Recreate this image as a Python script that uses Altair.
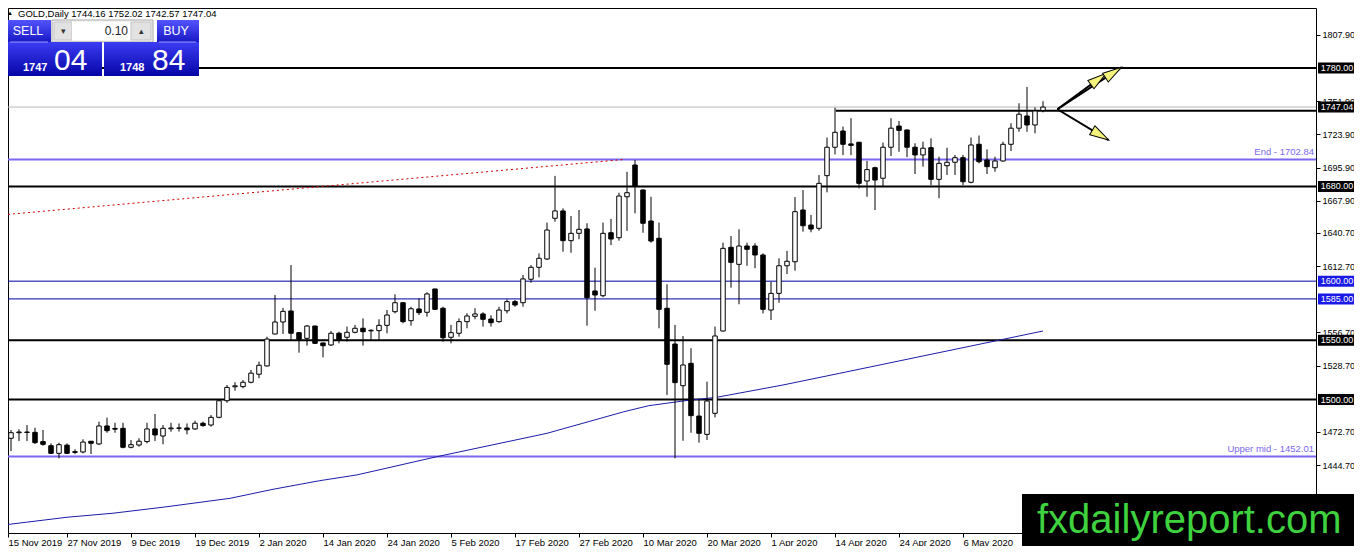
import altair as alt
import pandas as pd

# ---------------- data ----------------
opens = [
    1472.0, 1467.3, 1472.0, 1472.6, 1472.3, 1464.5, 1461.0, 1454.6, 1461.5, 1456.0,
    1455.7, 1464.8, 1462.5, 1477.7, 1475.6, 1475.7, 1459.7, 1461.6, 1464.5, 1475.2,
    1469.2, 1475.3, 1476.0, 1476.0, 1475.2, 1480.0, 1478.5, 1485.0, 1499.0, 1510.8,
    1510.9, 1514.6, 1521.4, 1528.4, 1555.4, 1565.5, 1574.8, 1556.5, 1551.7, 1562.1,
    1547.8, 1546.1, 1556.0, 1552.6, 1556.8, 1560.2, 1558.0, 1558.2, 1562.7, 1574.2,
    1581.8, 1566.6, 1576.5, 1573.7, 1593.4, 1577.1, 1552.6, 1556.0, 1565.8, 1570.3,
    1572.3, 1568.0, 1565.8, 1575.0, 1582.7, 1581.8, 1601.6, 1611.7, 1618.7, 1653.1,
    1659.3, 1634.2, 1640.4, 1644.1, 1591.7, 1587.7, 1640.9, 1636.7, 1671.3, 1698.1,
    1677.0, 1650.8, 1636.2, 1577.1, 1546.9, 1511.7, 1530.6, 1486.1, 1470.6, 1488.4,
    1557.9, 1628.6, 1614.2, 1629.7, 1629.7, 1622.1, 1575.6, 1589.7, 1613.0, 1616.4,
    1660.1, 1647.4, 1644.6, 1689.1, 1713.1, 1726.8, 1715.9, 1717.3, 1684.6, 1695.8,
    1686.9, 1713.1, 1731.0, 1727.7, 1713.1, 1706.6, 1712.7, 1686.0, 1697.5, 1700.4,
    1704.3, 1683.5, 1715.6, 1702.3, 1695.8, 1701.5, 1715.6, 1729.2, 1739.5, 1731.9,
    1744.16]
highs = [
    1473.5, 1474.3, 1474.9, 1478.5, 1476.2, 1474.3, 1463.0, 1463.6, 1463.0, 1458.0,
    1466.4, 1465.0, 1481.3, 1484.7, 1480.4, 1480.4, 1465.8, 1467.3, 1480.4, 1487.8,
    1478.5, 1480.4, 1479.8, 1479.8, 1482.2, 1481.3, 1486.9, 1500.2, 1512.3, 1514.6,
    1516.5, 1525.0, 1532.0, 1553.1, 1588.3, 1577.4, 1613.6, 1557.0, 1563.0, 1562.4,
    1548.0, 1557.9, 1557.3, 1561.6, 1563.0, 1568.6, 1559.3, 1567.8, 1575.6, 1588.9,
    1582.2, 1578.4, 1585.5, 1590.6, 1593.6, 1578.4, 1563.0, 1568.6, 1572.9, 1577.1,
    1573.7, 1571.2, 1578.4, 1584.7, 1584.1, 1605.2, 1613.6, 1623.5, 1649.4, 1688.9,
    1661.5, 1655.0, 1660.1, 1648.9, 1611.4, 1649.4, 1652.5, 1674.7, 1692.4, 1702.3,
    1677.5, 1671.3, 1649.4, 1597.3, 1563.0, 1553.7, 1543.3, 1500.2, 1515.1, 1561.6,
    1632.5, 1638.1, 1643.8, 1632.5, 1632.0, 1623.5, 1599.5, 1619.3, 1625.5, 1671.0,
    1676.9, 1655.9, 1689.6, 1721.3, 1746.5, 1730.5, 1737.6, 1717.6, 1701.5, 1696.7,
    1717.0, 1737.6, 1735.3, 1728.0, 1716.4, 1717.8, 1720.6, 1705.1, 1712.7, 1706.6,
    1706.6, 1721.3, 1723.0, 1711.3, 1705.1, 1717.8, 1733.4, 1750.2, 1764.0, 1746.8,
    1752.02]
lows = [
    1462.0, 1456.5, 1465.0, 1465.0, 1462.5, 1461.0, 1454.0, 1450.4, 1454.0, 1454.0,
    1454.6, 1454.0, 1461.6, 1472.0, 1472.0, 1458.8, 1458.8, 1460.2, 1463.0, 1465.0,
    1462.2, 1472.9, 1473.0, 1470.6, 1474.3, 1477.1, 1477.1, 1484.2, 1497.3, 1507.5,
    1509.5, 1513.7, 1518.0, 1527.8, 1555.0, 1555.4, 1550.3, 1539.6, 1545.5, 1546.9,
    1535.6, 1545.2, 1547.5, 1548.9, 1556.0, 1545.5, 1550.3, 1550.3, 1556.0, 1572.8,
    1564.4, 1562.4, 1571.4, 1570.0, 1575.6, 1548.9, 1547.5, 1553.1, 1560.2, 1567.8,
    1561.6, 1561.6, 1564.9, 1572.8, 1578.4, 1578.4, 1598.7, 1603.3, 1617.9, 1650.2,
    1624.9, 1624.0, 1635.4, 1562.4, 1575.0, 1586.4, 1630.5, 1634.2, 1642.5, 1657.3,
    1640.9, 1632.5, 1560.2, 1503.9, 1450.4, 1465.2, 1472.0, 1463.6, 1465.8, 1485.0,
    1557.5, 1594.5, 1580.5, 1613.0, 1610.9, 1572.8, 1567.2, 1581.8, 1606.0, 1608.8,
    1641.8, 1641.3, 1642.6, 1675.0, 1707.0, 1706.5, 1706.5, 1678.4, 1671.3, 1660.1,
    1679.8, 1705.7, 1709.3, 1704.8, 1690.5, 1696.7, 1681.2, 1670.0, 1689.7, 1689.7,
    1681.2, 1682.6, 1699.5, 1690.5, 1692.4, 1700.9, 1709.9, 1726.2, 1726.2, 1724.9,
    1742.57]
closes = [
    1463.0, 1472.0, 1472.6, 1472.2, 1463.6, 1462.2, 1454.6, 1461.9, 1454.6, 1455.4,
    1464.1, 1463.1, 1477.7, 1473.7, 1475.0, 1459.7, 1461.9, 1464.8, 1475.2, 1470.1,
    1475.7, 1476.0, 1475.8, 1474.5, 1480.0, 1478.0, 1485.0, 1499.0, 1510.3, 1511.6,
    1514.6, 1522.3, 1529.0, 1551.1, 1565.5, 1574.5, 1556.0, 1550.9, 1562.1, 1547.5,
    1545.5, 1556.0, 1550.3, 1556.8, 1560.2, 1557.3, 1558.5, 1562.7, 1571.4, 1581.8,
    1565.8, 1576.7, 1573.4, 1589.2, 1576.2, 1552.2, 1556.5, 1565.8, 1570.6, 1572.3,
    1567.8, 1564.9, 1575.6, 1582.7, 1579.9, 1601.9, 1611.7, 1619.3, 1643.2, 1659.3,
    1634.2, 1640.4, 1643.8, 1586.0, 1588.3, 1640.4, 1635.6, 1671.9, 1674.7, 1680.4,
    1648.9, 1633.9, 1576.2, 1529.8, 1514.3, 1529.2, 1486.4, 1471.5, 1498.8, 1553.7,
    1627.7, 1615.9, 1629.7, 1626.9, 1622.1, 1576.2, 1589.7, 1613.0, 1616.8, 1658.7,
    1646.8, 1644.0, 1682.6, 1713.1, 1725.7, 1715.6, 1714.7, 1682.6, 1694.2, 1685.4,
    1713.1, 1729.2, 1727.4, 1713.1, 1706.6, 1712.3, 1686.0, 1699.5, 1700.4, 1704.3,
    1684.0, 1715.0, 1700.9, 1696.7, 1701.5, 1715.6, 1729.2, 1741.0, 1731.9, 1743.7,
    1747.04]

date_ticks = ["15 Nov 2019", "27 Nov 2019", "9 Dec 2019", "19 Dec 2019", "2 Jan 2020",
              "14 Jan 2020", "24 Jan 2020", "5 Feb 2020", "17 Feb 2020", "27 Feb 2020",
              "10 Mar 2020", "20 Mar 2020", "1 Apr 2020", "14 Apr 2020", "24 Apr 2020",
              "6 May 2020"]
tick_idx = [0, 8, 16, 24, 32, 40, 48, 56, 64, 72, 80, 88, 96, 104, 112, 120]
right_ticks = [1807.9, 1751.9, 1723.9, 1695.9, 1667.9, 1640.7, 1612.7, 1556.7,
               1528.7, 1472.7, 1444.7, 1416.7]

black_levels = [1780.0, 1680.0, 1550.0, 1500.0]
blue_levels = [1600.0, 1585.0]
purple_levels = [1702.84, 1452.01]
purple_names = ["End", "Upper mid"]
resist_level = [1744.0]
resist_start = [104.1]
black_boxes = [1780.0, 1747.04, 1680.0, 1550.0, 1500.0]
blue_boxes = [1600.0, 1585.0]

ma_idx = [0, 8, 13.75, 20.5, 28.4, 33.75, 39.6, 44.2, 48.75, 54.2, 68, 77.6, 80.7,
          85.25, 89.2, 97.5, 104.6, 124.6, 130]
ma_val = [1394.0, 1400.6, 1404.0, 1409.5, 1416.6, 1424.2, 1431.5, 1436.3, 1443.3,
          1451.7, 1471.5, 1489.7, 1494.8, 1499.0, 1501.9, 1512.3, 1522.2, 1550.3, 1557.9]

trend_idx = [0, 77.75]
trend_val = [1656.0, 1702.84]

arrow_origin = [131.8, 1745.2]
arrow_tip_idx = [137.9, 139.8, 138.2]
arrow_tip_val = [1775.5, 1780.6, 1719.2]
arrow_angle = [53.5, 57.0, 121.0]

ask_price = 1748.84
lot_size = "0.10"

# ---------------- geometry ----------------
W, H = 1308, 525
XMIN, XMAX = 0.625, 164.125
YMIN, YMAX = 1387.3, 1830.7
PPU = (YMAX - YMIN) / H
O = 8  # page offset of plot origin

xs = alt.Scale(domain=[XMIN, XMAX], nice=False, zero=False)
ys = alt.Scale(domain=[YMIN, YMAX], nice=False, zero=False)

FONT = "Liberation Sans"
axis_vals = [max(v, XMIN) for v in tick_idx]
lbl_js = "[" + ",".join("'%s'" % d for d in date_ticks) + "]"
idx_js = "[" + ",".join(str(v) for v in axis_vals) + "]"

xaxis = alt.Axis(values=axis_vals, labelExpr=f"{lbl_js}[indexof({idx_js}, datum.value)]",
                 orient="bottom", title=None, grid=False, domain=False, tickSize=4,
                 tickColor="black", labelAlign="left", labelBaseline="top", labelPadding=0,
                 labelFontSize=9.5, labelFont=FONT, labelColor="black",
                 labelFlush=False, labelOverlap=False, labelBound=False, zindex=0)
yaxis = alt.Axis(values=right_ticks, format=".2f", orient="right", title=None, grid=False,
                 domain=False, tickSize=4, tickColor="black", labelPadding=2,
                 labelFontSize=9, labelFont=FONT, labelColor="black",
                 labelBaseline="middle", labelOverlap=False, labelFlush=False,
                 labelBound=False, zindex=0)


def X(f):
    return alt.X(f, type="quantitative", scale=xs, axis=xaxis)


def Y(f):
    return alt.Y(f, type="quantitative", scale=ys, axis=yaxis)


df = pd.DataFrame({"i": list(range(len(opens))), "open": opens, "high": highs,
                   "low": lows, "close": closes})
blank = pd.DataFrame({"a": [0]})

layers = []

# horizontal levels (behind candles)
layers.append(alt.Chart(pd.DataFrame({"p": [closes[-1]]})).mark_rule(
    color="#b8b8b8", strokeWidth=1).encode(y=Y("p")))
layers.append(alt.Chart(pd.DataFrame({"p": purple_levels})).mark_rule(
    color="#7b68ee", strokeWidth=2).encode(y=Y("p")))
layers.append(alt.Chart(pd.DataFrame({"p": blue_levels})).mark_rule(
    color="#0000a0", strokeWidth=1).encode(y=Y("p")))
layers.append(alt.Chart(pd.DataFrame({"p": black_levels})).mark_rule(
    color="black", strokeWidth=2).encode(y=Y("p")))
layers.append(alt.Chart(pd.DataFrame({"i": resist_start, "p": resist_level})).mark_rule(
    color="black", strokeWidth=2).encode(x=X("i"), x2=alt.value(W), y=Y("p")))

# trend (red dotted) and moving average
layers.append(alt.Chart(pd.DataFrame({"i": trend_idx, "p": trend_val})).mark_line(
    color="#d00000", strokeWidth=1, strokeDash=[2, 3], clip=True).encode(x=X("i"), y=Y("p")))
layers.append(alt.Chart(pd.DataFrame({"i": ma_idx, "p": ma_val})).mark_line(
    color="#1c1ca8", strokeWidth=1, clip=True).encode(x=X("i"), y=Y("p")))

# level labels
layers.append(alt.Chart(pd.DataFrame({"p": purple_levels, "n": purple_names}))
              .transform_calculate(t="datum.n + ' - ' + format(datum.p, '.2f')")
              .mark_text(align="right", baseline="bottom", dy=-2, fontSize=9.5, font=FONT,
                         color="#7b68ee")
              .encode(x=alt.value(1314 - O), y=Y("p"), text="t:N"))

# candles
layers.append(alt.Chart(df).mark_rule(color="black", strokeWidth=1, clip=True)
              .encode(x=X("i"), y=Y("low"), y2="high"))
body = alt.Chart(df).transform_calculate(x1="datum.i - 0.28", x2="datum.i + 0.28")
layers.append(body.transform_filter("datum.close >= datum.open")
              .mark_rect(fill="white", stroke="black", strokeWidth=1, clip=True)
              .encode(x=X("x1"), x2="x2", y=Y("open"), y2="close"))
layers.append(body.transform_filter("datum.close < datum.open")
              .mark_rect(fill="black", stroke="black", strokeWidth=1, clip=True)
              .encode(x=X("x1"), x2="x2", y=Y("open"), y2="close"))

# arrows
rows = []
for j in range(len(arrow_tip_idx)):
    rows.append({"g": j, "i": arrow_origin[0], "p": arrow_origin[1]})
    rows.append({"g": j, "i": arrow_tip_idx[j], "p": arrow_tip_val[j]})
layers.append(alt.Chart(pd.DataFrame(rows)).mark_line(color="black", strokeWidth=2)
              .encode(x=X("i"), y=Y("p"), detail="g:N"))
layers.append(alt.Chart(pd.DataFrame({"i": arrow_tip_idx, "p": arrow_tip_val,
                                      "a": arrow_angle}))
              .mark_point(shape="M0,0L0.42,1.55L-0.42,1.55Z", size=600, filled=True,
                          color="#f4f47c", stroke="black", strokeWidth=1, opacity=1)
              .encode(x=X("i"), y=Y("p"), angle=alt.Angle("a:Q", scale=None)))

# price boxes on the right axis
half = 5.5 * PPU
for levels, col in ((black_boxes, "black"), (blue_boxes, "#1a1ae6")):
    bx = alt.Chart(pd.DataFrame({"p": levels})).transform_calculate(
        y1=f"datum.p - {half}", y2=f"datum.p + {half}",
        t="format(datum.p, '.2f')")
    layers.append(bx.mark_rect(fill=col).encode(
        x=alt.value(1318 - O), x2=alt.value(1356 - O), y=Y("y1"), y2="y2"))
    layers.append(bx.mark_text(color="white", fontSize=9, font=FONT, align="center",
                               baseline="middle").encode(
        x=alt.value(1337 - O), y=Y("p"), text="t:N"))


# ---------------- decorations (panel, header, watermark) ----------------
def box(x1, y1, x2, y2, **kw):
    return alt.Chart(blank).mark_rect(**kw).encode(
        x=alt.value(x1 - O), x2=alt.value(x2 - O), y=alt.value(y1 - O), y2=alt.value(y2 - O))


def txt(x, y, s, **kw):
    kw.setdefault("font", FONT)
    return alt.Chart(blank).mark_text(**kw).encode(
        x=alt.value(x - O), y=alt.value(y - O), text=alt.value(s))


def hline(x1, x2, y, **kw):
    return alt.Chart(blank).mark_rule(**kw).encode(
        x=alt.value(x1 - O), x2=alt.value(x2 - O), y=alt.value(y - O))


grad_head = alt.Gradient(gradient="linear", x1=0, x2=0, y1=0, y2=1, stops=[
    alt.GradientStop(color="#5454ff", offset=0), alt.GradientStop(color="#1818c4", offset=1)])
grad_price = alt.Gradient(gradient="linear", x1=0, x2=0, y1=0, y2=1, stops=[
    alt.GradientStop(color="#3c3cf4", offset=0), alt.GradientStop(color="#0505a6", offset=1)])

header = "GOLD,Daily  {:.2f} {:.2f} {:.2f} {:.2f}".format(opens[-1], highs[-1], lows[-1], closes[-1])
layers.append(txt(10, 13, "▲", fontSize=6, color="black", align="center", baseline="middle"))
layers.append(txt(18, 17, header, fontSize=9.5, color="black", align="left", baseline="alphabetic"))

layers.append(box(6, 20, 51, 42, fill=grad_head))
layers.append(box(52, 20, 153, 42, fill="#f4f4f4", stroke="#a8a8a8", strokeWidth=1))
layers.append(box(54, 22, 72, 40, fill="#e2e2e2", stroke="#c4c4c4", strokeWidth=1))
layers.append(box(72, 22, 131, 40, fill="white"))
layers.append(box(131, 22, 151, 40, fill="#e2e2e2", stroke="#c4c4c4", strokeWidth=1))
layers.append(box(157, 20, 199, 42, fill=grad_head))
layers.append(box(6, 42, 102, 76, fill=grad_price))
layers.append(box(104, 42, 199, 76, fill=grad_price))
layers.append(hline(10, 48, 42, color="#9a9aff", strokeWidth=1))
layers.append(hline(159, 196, 42, color="#9a9aff", strokeWidth=1))
layers.append(txt(63, 31, "▾", fontSize=9, color="#333", align="center", baseline="middle"))
layers.append(txt(141, 31, "▴", fontSize=9, color="#333", align="center", baseline="middle"))
layers.append(txt(128, 31, lot_size, fontSize=12, color="#222", align="right", baseline="middle"))
layers.append(txt(28, 31, "SELL", fontSize=12.5, color="white", align="center", baseline="middle"))
layers.append(txt(176, 31, "BUY", fontSize=12.5, color="white", align="center", baseline="middle"))

bid_int, bid_frac = f"{closes[-1]:.2f}".split(".")
ask_int, ask_frac = f"{ask_price:.2f}".split(".")
layers.append(txt(23, 71, bid_int, fontSize=11, fontWeight="bold", color="white",
                  align="left", baseline="alphabetic"))
layers.append(txt(54, 70, bid_frac, fontSize=30, color="white", align="left",
                  baseline="alphabetic"))
layers.append(txt(120, 71, ask_int, fontSize=11, fontWeight="bold", color="white",
                  align="left", baseline="alphabetic"))
layers.append(txt(152, 70, ask_frac, fontSize=30, color="white", align="left",
                  baseline="alphabetic"))

layers.append(box(1022, 494, 1366, 560, fill="black"))
layers.append(txt(1037, 533, "fxdailyreport.com", fontSize=40, color="#3fd23f",
                  align="left", baseline="alphabetic"))

# svg = 1346 x 538, so that page (8px margins) is exactly 1362 x 554
chart = alt.layer(*layers).properties(
    width=W, height=H,
    padding={"left": 0, "top": 0, "right": 38, "bottom": 13},
    autosize=alt.AutoSizeParams(type="none"),
    background="white",
).configure_view(stroke="black", strokeWidth=1)

chart.save("out.html", embed_options={"renderer": "svg", "actions": False})
